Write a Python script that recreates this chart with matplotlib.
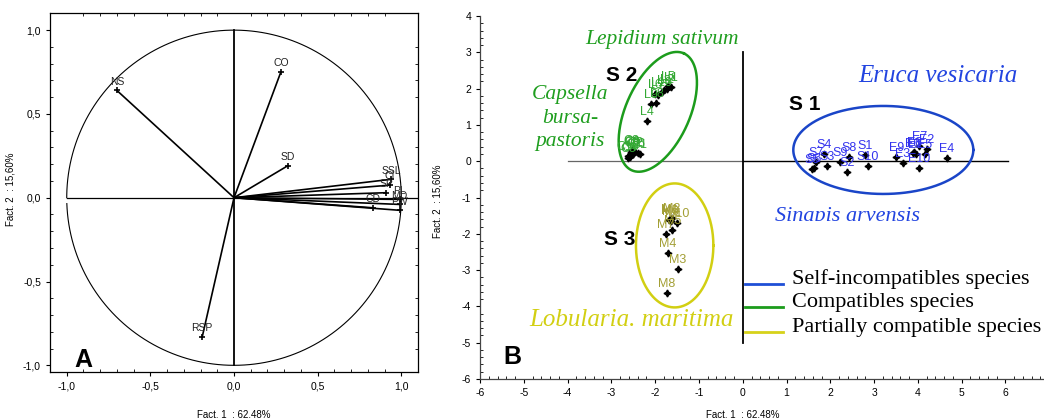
import numpy as np
import matplotlib
matplotlib.use('Agg')
import matplotlib.pyplot as plt
from matplotlib.ticker import MultipleLocator, FuncFormatter, AutoMinorLocator
from matplotlib.patches import Rectangle

# panel A: variable loadings on factors 1 and 2
var_names = ['NS', 'CO', 'SD', 'RSP', 'SSL', 'CI', 'SP', 'PL', 'CD', 'MD', 'PW']
var_f1 = [-0.70, 0.28, 0.32, -0.19, 0.94, 0.93, 0.91, 0.99, 0.83, 0.99, 0.99]
var_f2 = [0.64, 0.75, 0.19, -0.83, 0.11, 0.075, 0.03, -0.01, -0.06, -0.04, -0.075]

# panel B: individuals
L_f1 = [-1.64, -1.74, -1.80, -2.19, -1.70, -2.00, -1.93, -1.97, -2.10, -1.85]
L_f2 = [2.04, 1.98, 1.95, 1.11, 2.08, 1.84, 1.82, 1.59, 1.57, 1.90]
C_f1 = [-2.35, -2.46, -2.54, -2.58, -2.61, -2.40, -2.50, -2.55, -2.52, -2.62]
C_f2 = [0.19, 0.26, 0.31, 0.12, 0.08, 0.22, 0.20, 0.24, 0.28, 0.15]
S_f1 = [2.79, 2.39, 1.92, 1.86, 1.59, 1.62, 1.67, 2.43, 2.22, 2.85]
S_f2 = [0.17, -0.29, -0.14, 0.19, -0.22, -0.18, -0.03, 0.12, -0.01, -0.12]
E_f1 = [3.95, 4.21, 3.65, 4.66, 4.16, 3.89, 4.03, 3.92, 3.51, 4.02]
E_f2 = [0.19, 0.33, -0.04, 0.08, 0.19, 0.22, 0.42, 0.25, 0.11, -0.18]
M_f1 = [-1.66, -1.62, -1.49, -1.71, -1.61, -1.68, -1.75, -1.74, -1.64, -1.50]
M_f2 = [-1.60, -1.56, -2.98, -2.54, -1.90, -1.63, -2.01, -3.64, -1.66, -1.70]

legend_labels = ['Self-incompatibles species', 'Compatibles species', 'Partially compatible species']
legend_colors = ['#1f4fd6', '#1c9c1c', '#d6d21a']

sans = 'Liberation Sans'
serif = 'Liberation Serif'
plt.rcParams['font.family'] = [sans, 'DejaVu Sans']

fig = plt.figure(figsize=(10.44, 4.18), dpi=100)

# ---------------- panel A ----------------
ax = fig.add_axes([0.0479, 0.110, 0.3525, 0.858])
ax.set_xlim(-1.1, 1.1)
ax.set_ylim(-1.04, 1.10)

th = np.linspace(np.pi + 0.035, 3 * np.pi, 400)
ax.plot(np.cos(th), np.sin(th), color='black', lw=0.8)
ax.plot([-1, 1.1], [0, 0], color='black', lw=0.9)
ax.plot([0, 0], [-1, 1], color='black', lw=1.3)

for name, fx, fy in zip(var_names, var_f1, var_f2):
    ax.plot([0, fx], [0, fy], color='black', lw=1.2)
    ax.plot(fx, fy, marker='+', color='black', ms=4, mew=1.2)
    ax.annotate(name, (fx, fy), xytext=(0, 6.3), textcoords='offset points',
                ha='center', va='center', fontsize=7.5, color='#222222')

ax.text(-0.90, -0.97, 'A', fontsize=18, fontweight='bold', ha='center', va='center')

fmt_comma = FuncFormatter(lambda v, p: f'{v:.1f}'.replace('.', ',').replace('\u2212', '-'))
ax.xaxis.set_major_locator(MultipleLocator(0.5))
ax.yaxis.set_major_locator(MultipleLocator(0.5))
ax.xaxis.set_minor_locator(MultipleLocator(0.1))
ax.yaxis.set_minor_locator(MultipleLocator(0.1))
ax.xaxis.set_major_formatter(fmt_comma)
ax.yaxis.set_major_formatter(fmt_comma)
ax.tick_params(which='major', direction='out', length=3, width=0.8, labelsize=7.5)
ax.tick_params(which='minor', direction='in', length=2, width=0.6, top=True, right=True)
for sp in ax.spines.values():
    sp.set_linewidth(0.9)
ax.set_xlabel('Fact. 1  : 62,48%', fontsize=7)
ax.set_ylabel('Fact. 2  : 15,60%', fontsize=7)
ax.xaxis.set_label_coords(0.5, -0.105)
ax.yaxis.set_label_coords(-0.095, 0.51)

# ---------------- panel B ----------------
bx = fig.add_axes([0.4598, 0.0933, 0.5402, 0.8684])
bx.set_xlim(-6, 6.88)
bx.set_ylim(-6, 4)
bx.spines['top'].set_visible(False)
bx.spines['right'].set_visible(False)
for sp in ['left', 'bottom']:
    bx.spines[sp].set_linewidth(0.9)
    bx.spines[sp].set_color('#444444')

bx.xaxis.set_major_locator(MultipleLocator(1))
bx.yaxis.set_major_locator(MultipleLocator(1))
bx.xaxis.set_minor_locator(AutoMinorLocator(5))
bx.yaxis.set_minor_locator(AutoMinorLocator(5))
bx.xaxis.set_major_formatter(FuncFormatter(lambda v, p: f'{int(round(v))}'))
bx.yaxis.set_major_formatter(FuncFormatter(lambda v, p: f'{int(round(v))}'))
bx.tick_params(which='major', direction='out', length=3, width=0.8, labelsize=7.5)
bx.tick_params(which='minor', direction='in', length=2, width=0.6)
bx.set_xlabel('Fact. 1  : 62,48%', fontsize=7)
bx.set_ylabel('Fact. 2  : 15,60%', fontsize=7)
bx.xaxis.set_label_coords(0.466, -0.085)
bx.yaxis.set_label_coords(-0.066, 0.49)

bx.plot([-4, 0], [0, 0], color='#666666', lw=0.9)
bx.plot([0, 6.05], [0, 0], color='black', lw=1.0)
bx.plot([0, 0], [-5, 3], color='black', lw=1.3)


def ellipse_px(axis, cx, cy, a_px, b_px, ang, color):
    # ellipse given in screen pixels around a data centre
    t = np.linspace(0, 2 * np.pi, 300)
    u = a_px * np.cos(t)
    v = b_px * np.sin(t)
    r = np.deg2rad(ang)
    dx = u * np.cos(r) - v * np.sin(r)
    dy = u * np.sin(r) + v * np.cos(r)
    c = axis.transData.transform((cx, cy))
    pts = axis.transData.inverted().transform(np.column_stack([c[0] + dx, c[1] + dy]))
    axis.plot(pts[:, 0], pts[:, 1], color=color, lw=1.8, zorder=2)


ellipse_px(bx, 3.21, 0.31, 90, 44, 0, '#1a45c8')
ellipse_px(bx, -1.94, 1.36, 64, 32, 66, '#1c9c1c')
ellipse_px(bx, -1.555, -2.32, 38.7, 62, 0, '#d2cf12')

groups = [
    ('L', L_f1, L_f2, '#33a833'),
    ('C', C_f1, C_f2, '#33a833'),
    ('S', S_f1, S_f2, '#3333ee'),
    ('E', E_f1, E_f2, '#3333ee'),
    ('M', M_f1, M_f2, '#a39f35'),
]
for pre, xs, ys, col in groups:
    bx.plot(xs, ys, ls='none', marker=(4, 1, 0), ms=5, color='black', zorder=4)
    for i, (px, py) in enumerate(zip(xs, ys)):
        bx.annotate(f'{pre}{i + 1}', (px, py), xytext=(0, 6.5), textcoords='offset points',
                    ha='center', va='center', fontsize=9, color=col, zorder=5)

it = dict(family=serif, style='italic', ha='center', va='center')
bx.text(-1.84, 3.34, 'Lepidium sativum', color='#1f9e1f', fontsize=15.5, **it)
bx.text(-3.95, 1.19, 'Capsella\nbursa-\npastoris', color='#1f9e1f', fontsize=15.5,
        linespacing=1.3, **it)
bx.text(4.46, 2.35, 'Eruca vesicaria', color='#2244e0', fontsize=18, **it)
bx.text(2.40, -1.51, 'Sinapis arvensis', color='#2244e0', fontsize=16, zorder=1, **it)
bx.text(-2.53, -4.37, 'Lobularia. maritima', color='#d2cf12', fontsize=18, **it)

bd = dict(fontsize=15, fontweight='bold', ha='center', va='center', color='black')
bx.text(1.42, 1.55, 'S 1', **bd)
bx.text(-2.76, 2.37, 'S 2', **bd)
bx.text(-2.80, -2.17, 'S 3', **bd)
bx.text(-5.25, -5.39, 'B', fontsize=18, fontweight='bold', ha='center', va='center')

# legend box covering the lower right part
bx.add_patch(Rectangle((0.05, -5.1), 6.83, 3.45, facecolor='white', edgecolor='none', zorder=3))
leg_y = [-3.39, -4.02, -4.71]
for lab, col, ly in zip(legend_labels, legend_colors, leg_y):
    bx.plot([0.05, 0.92], [ly, ly], color=col, lw=2, zorder=4)
    bx.text(1.12, ly, lab, family=serif, fontsize=16, va='baseline', ha='left', zorder=4)

fig.savefig('out.png', dpi=100)
